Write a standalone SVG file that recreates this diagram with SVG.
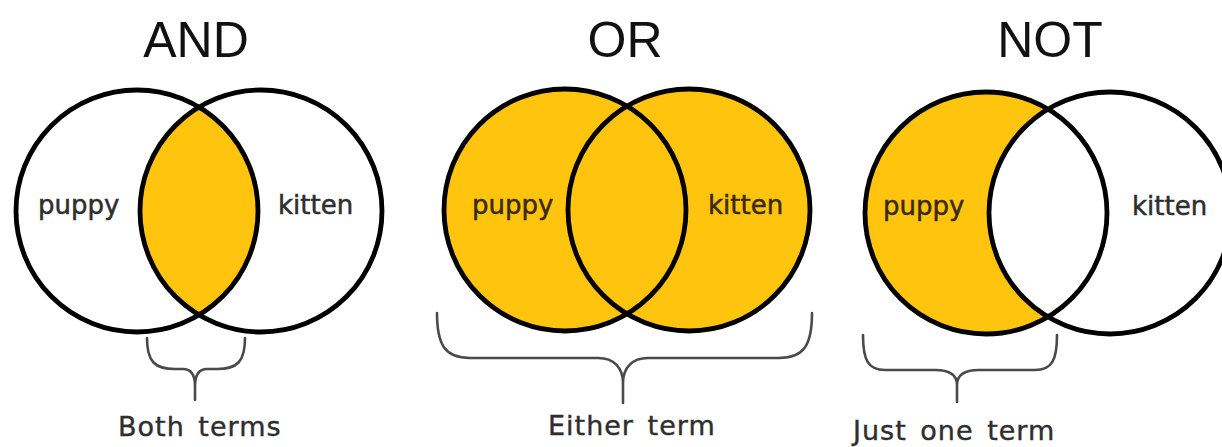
<svg xmlns="http://www.w3.org/2000/svg" width="1222" height="447" viewBox="0 0 1222 447">
<style>
.title{font-family:"Liberation Sans",Arial,sans-serif;font-size:50px;fill:#111;text-anchor:middle}
.lbl{font-family:"DejaVu Sans",Verdana,sans-serif;font-size:26px;fill:#2e2e2e;stroke:#2e2e2e;stroke-width:0.5}
.on{fill:#3a2a10;stroke:#3a2a10}
.cap{font-family:"DejaVu Sans",Verdana,sans-serif;font-size:27px;fill:#2e2e2e;stroke:#2e2e2e;stroke-width:0.4;letter-spacing:1px;word-spacing:4px}
.ring{fill:none;stroke:#000;stroke-width:4.8}
.y{fill:#FFC40E}
.w{fill:#fff}
.brace{fill:none;stroke:#4a4a4a;stroke-width:2.6;stroke-linecap:round;stroke-linejoin:round}
</style>
<defs>
<clipPath id="andClip"><circle cx="137" cy="211" r="121"/></clipPath>
</defs>
<rect width="1222" height="447" fill="#fff"/>
<g id="and">
<text class="title" x="196" y="57">AND</text>
<circle class="y" cx="261" cy="211" r="121" clip-path="url(#andClip)"/>
<circle class="ring" cx="137" cy="211" r="121"/>
<circle class="ring" cx="261" cy="211" r="121"/>
<text class="lbl" x="38" y="214">puppy</text>
<text class="lbl" x="278" y="214">kitten</text>
<text class="cap" x="118" y="436">Both terms</text>
</g>
<g id="or">
<text class="title" x="625" y="57">OR</text>
<circle class="y" cx="565" cy="210" r="121"/>
<circle class="y" cx="689" cy="210" r="121"/>
<circle class="ring" cx="565" cy="210" r="121"/>
<circle class="ring" cx="689" cy="210" r="121"/>
<text class="lbl on" x="472" y="214">puppy</text>
<text class="lbl on" x="708" y="214">kitten</text>
<text class="cap" x="548" y="435">Either term</text>
</g>
<g id="not">
<text class="title" x="1050" y="57">NOT</text>
<circle class="y" cx="986" cy="213" r="121"/>
<circle class="w" cx="1110" cy="213" r="121"/>
<circle class="ring" cx="986" cy="213" r="121"/>
<circle class="ring" cx="1110" cy="213" r="121"/>
<text class="lbl on" x="883" y="215">puppy</text>
<text class="lbl" x="1132" y="215">kitten</text>
<text class="cap" x="853" y="440">Just one term</text>
</g>
<g id="braces">
<path class="brace" d="M147,338 C147,362 155,369 175,369 L183,369 C192,369 195,376 195,386 L195,400 M245,338 C245,362 237,369 217,369 L207,369 C198,369 195,376 195,386"/>
<path class="brace" d="M437,313 C437,345 445,358 470,358 L598,358 C614,358 623,368 623,383 L623,403 M812,313 C812,345 804,358 779,358 L648,358 C632,358 623,368 623,383"/>
<path class="brace" d="M863,335 C863,360 868,370 885,370 L935,370 C950,370 957,375 957,385 L957,402 M1057,335 C1057,360 1052,370 1035,370 L979,370 C964,370 957,375 957,385"/>
</g>
</svg>
